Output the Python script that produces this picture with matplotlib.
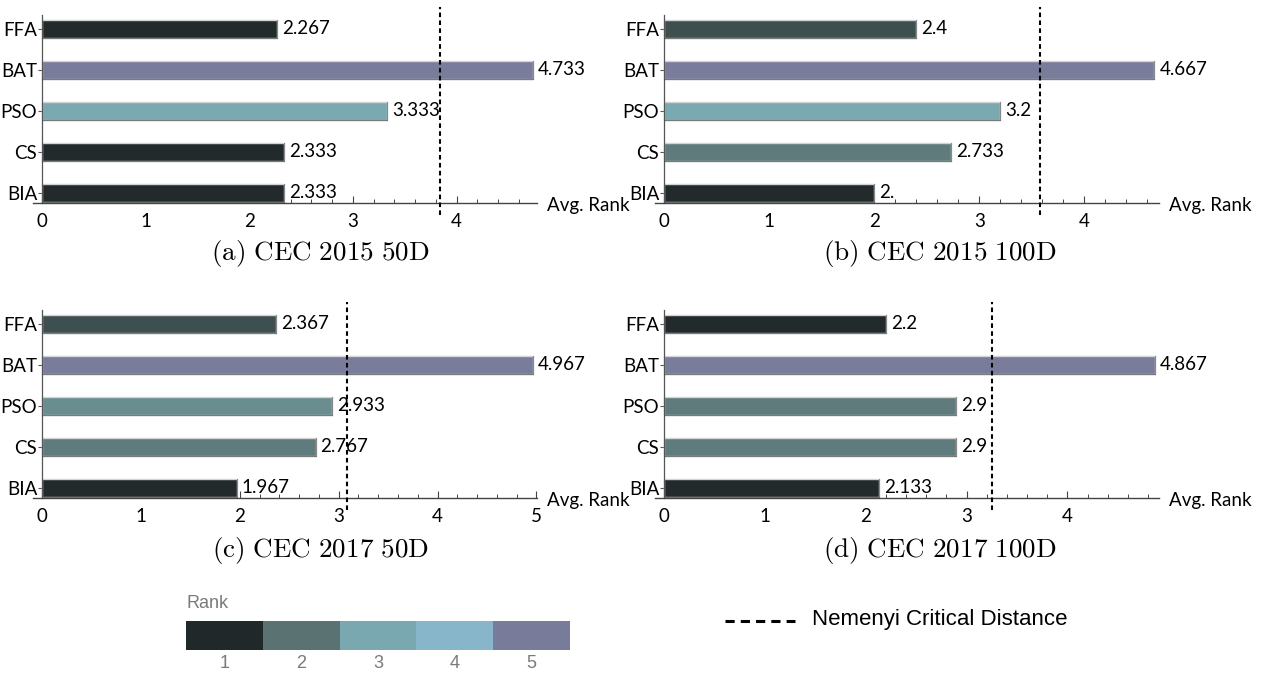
import matplotlib
matplotlib.use("Agg")
import matplotlib.pyplot as plt
from matplotlib.patches import Rectangle
from matplotlib.lines import Line2D

plt.rcParams['mathtext.fontset'] = 'cm'

# ---- data -------------------------------------------------------------
algorithms = ["BIA", "CS", "PSO", "BAT", "FFA"]          # bottom to top
rank_2015_50 = [2.333, 2.333, 3.333, 4.733, 2.267]
rank_2015_100 = [2.0, 2.733, 3.2, 4.667, 2.4]
rank_2017_50 = [1.967, 2.767, 2.933, 4.967, 2.367]
rank_2017_100 = [2.133, 2.9, 2.9, 4.867, 2.2]
critical_2015_50 = 3.845
critical_2015_100 = 3.578
critical_2017_50 = 3.087
critical_2017_100 = 3.253
captions = ["(a) CEC 2015 50D", "(b) CEC 2015 100D",
            "(c) CEC 2017 50D", "(d) CEC 2017 100D"]
rank_levels = [1, 2, 3, 4, 5]

# ---- styles -----------------------------------------------------------
rank_colors = ["#212829", "#5b7273", "#7aa8b0", "#87b5c9", "#797b9b"]
DARK = "#232a2b"
MID = "#3e4f4f"
TEAL = "#607b7b"
TEAL2 = "#6a8e8f"
LIGHT = "#7aa9b1"
PURPLE = "#7a7c9c"
bar_colors = [
    [DARK, DARK, LIGHT, PURPLE, DARK],
    [DARK, TEAL, LIGHT, PURPLE, MID],
    [DARK, TEAL, TEAL2, PURPLE, MID],
    [DARK, TEAL, TEAL, PURPLE, DARK],
]

W, H = 1264, 677
fig = plt.figure(figsize=(W / 100, H / 100), dpi=100)

LABEL_FONT = ["Lato", "DejaVu Sans"]
FS = 13.5

panels = [rank_2015_50, rank_2015_100, rank_2017_50, rank_2017_100]
crits = [critical_2015_50, critical_2015_100, critical_2017_50, critical_2017_100]
# zero of the value axis (px from left) and axis-line height (px from top)
origins = [(42, 203), (664, 203), (42, 498), (664, 498)]
caption_pos = [(320, 253), (940, 253), (320, 551), (940, 551)]
AX_W, AX_H = 504, 188
XLO = -0.09
YLO, YHI = -0.25, 4.33


def fmt(v):
    return f"{v:.3f}".rstrip("0")


for i, (vals, cd, (x0, ay)) in enumerate(zip(panels, crits, origins)):
    xmax = max(vals) + 0.04
    scale = AX_W / (xmax - XLO)
    lx = x0 + XLO * scale
    ax = fig.add_axes([lx / W, (H - ay) / H, AX_W / W, AX_H / H])
    ax.set_xlim(XLO, xmax)
    ax.set_ylim(YLO, YHI)
    ypos = list(range(len(algorithms)))
    ax.barh(ypos, vals, height=0.44, color=bar_colors[i],
            edgecolor="#d4d4d4", linewidth=1.0, zorder=2)
    # darker lower and right edge of each bar
    for y, v in zip(ypos, vals):
        ax.plot([0, v], [y - 0.22, y - 0.22], color="#3a4040", lw=0.9,
                alpha=0.6, zorder=3, solid_capstyle="butt")
        ax.plot([v, v], [y - 0.22, y + 0.22], color="#3a4040", lw=0.8,
                alpha=0.5, zorder=3)
        ax.text(v + 0.05, y, fmt(v), ha="left", va="center",
                fontsize=FS, family=LABEL_FONT, color="black", zorder=4)

    for s in ("top", "right"):
        ax.spines[s].set_visible(False)
    ax.spines["left"].set_position(("data", 0))
    ax.spines["left"].set_color("#555555")
    ax.spines["bottom"].set_color("#444444")
    ax.spines["left"].set_linewidth(0.9)
    ax.spines["bottom"].set_linewidth(1.0)

    ax.set_yticks(ypos)
    ax.set_yticklabels(algorithms, family=LABEL_FONT, fontsize=FS)
    ax.tick_params(axis="y", direction="out", length=3, width=0.8,
                   pad=0.5, color="#555555")

    majors = [t for t in range(0, 6) if t <= xmax]
    ax.set_xticks(majors)
    ax.set_xticklabels([str(t) for t in majors], family=LABEL_FONT, fontsize=FS)
    ax.set_xticks([k * 0.2 for k in range(0, 26) if k * 0.2 <= xmax and k % 5],
                  minor=True)
    ax.tick_params(axis="x", which="major", direction="in", length=5,
                   width=0.8, pad=7.5, color="#444444")
    ax.tick_params(axis="x", which="minor", direction="in", length=3,
                   width=0.7, color="#444444")

    ax.text(1.02, -0.012, "Avg. Rank", transform=ax.transAxes, ha="left",
            va="center", fontsize=FS, family=LABEL_FONT)

    # critical distance line
    ax.plot([cd, cd], [YLO - 0.3, YHI + 0.2], color="black", lw=1.5,
            linestyle=(0, (2.2, 1.6)), clip_on=False, zorder=5)

    cx, cy = caption_pos[i]
    fig.text(cx / W, (H - cy) / H,
             r"$\mathrm{" + captions[i].replace(" ", r"\ ") + "}$",
             ha="center", va="center", fontsize=19.5)

# ---- rank colour legend ----------------------------------------------
lax = fig.add_axes([186 / W, (H - 650) / H, 384 / W, 29 / H])
lax.set_xlim(0.5, 5.5)
lax.set_ylim(0, 1)
for r, c in zip(rank_levels, rank_colors):
    lax.add_patch(Rectangle((r - 0.5, 0), 1, 1, facecolor=c, edgecolor="none"))
lax.axis("off")
for r in rank_levels:
    lax.text(r, -0.46, str(r), ha="center", va="center", fontsize=13,
             color="#7a7a7a", family="Liberation Sans")
lax.text(0.5, 1.6, "Rank", ha="left", va="center", fontsize=13,
         color="#7a7a7a", family="Liberation Sans")

# ---- critical distance legend ----------------------------------------
fig.add_artist(Line2D([725 / W, 795 / W], [(H - 621) / H, (H - 621) / H],
                      color="black", lw=2.2, linestyle=(0, (3.0, 2.0))))
fig.text(812 / W, (H - 620) / H, "Nemenyi Critical Distance",
         ha="left", va="center", fontsize=16, family="Liberation Sans")

fig.savefig("out.png", dpi=100)
